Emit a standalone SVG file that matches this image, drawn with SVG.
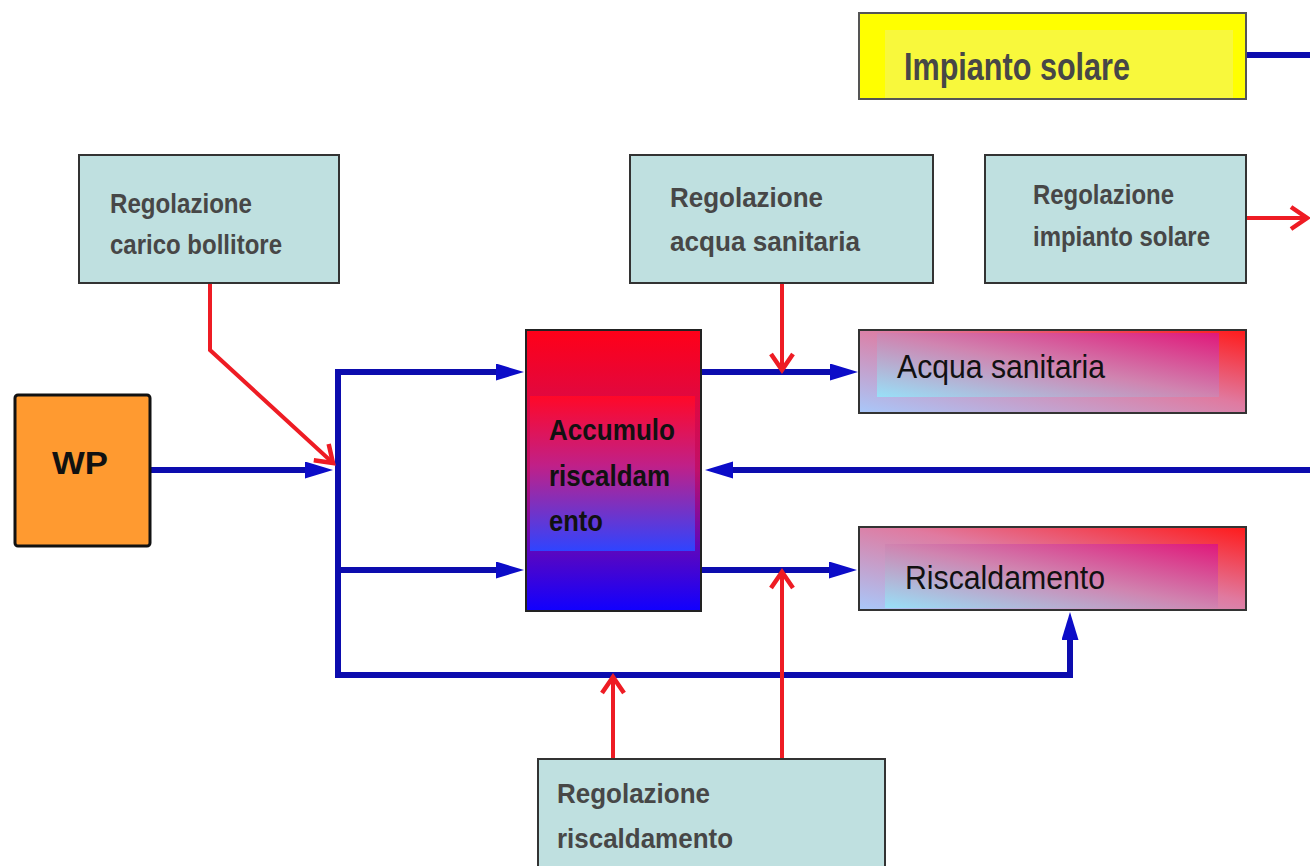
<svg xmlns="http://www.w3.org/2000/svg" width="1310" height="866" viewBox="0 0 1310 866">
<style>
.reg{fill:#bfe0e0;stroke:#333;stroke-width:2}
.rt{font-family:"Liberation Sans",Arial,sans-serif;font-weight:bold;font-size:28px;fill:#474747}
.big{font-size:39px}
.bt{font-family:"Liberation Sans",Arial,sans-serif;font-weight:bold;fill:#111}
.nt{font-family:"Liberation Sans",Arial,sans-serif;font-size:34px;fill:#111}
.blue{fill:none;stroke:#0c0cae;stroke-width:6}
.red{fill:none;stroke:#ee1c24;stroke-width:4}
</style>
<defs>
<marker id="ab" markerUnits="userSpaceOnUse" markerWidth="30" markerHeight="20" refX="2" refY="8.5" orient="auto">
<path d="M0,0 L28,8.5 L0,17 z" fill="#0c0cc8"/>
</marker>
<marker id="ar" markerUnits="userSpaceOnUse" markerWidth="24" markerHeight="28" refX="17" refY="12" orient="auto" overflow="visible">
<path d="M1,1 L17,12 L1,23" fill="none" stroke="#ee1c24" stroke-width="4.5"/>
</marker>
<linearGradient id="gAcc" x1="0" y1="0" x2="0" y2="1">
<stop offset="0" stop-color="#ff0018"/>
<stop offset="0.5" stop-color="#c0106a"/>
<stop offset="1" stop-color="#1000ff"/>
</linearGradient>
<linearGradient id="gAccIn" x1="0" y1="0" x2="0" y2="1">
<stop offset="0" stop-color="#ff0828"/>
<stop offset="0.45" stop-color="#c02088"/>
<stop offset="1" stop-color="#2f44ff"/>
</linearGradient>
<linearGradient id="gOut" x1="0" y1="1" x2="1" y2="0">
<stop offset="0" stop-color="#a8c8fa"/>
<stop offset="0.55" stop-color="#e07aa0"/>
<stop offset="1" stop-color="#ff1a1a"/>
</linearGradient>
<linearGradient id="gIn" x1="0" y1="1" x2="1" y2="0">
<stop offset="0" stop-color="#98e0f8"/>
<stop offset="0.5" stop-color="#d084b0"/>
<stop offset="1" stop-color="#e0187a"/>
</linearGradient>
</defs>

<g id="connectors">
<path class="blue" d="M150,470 H307" marker-end="url(#ab)"/>
<path class="blue" d="M338,372 V675 H1070 V638" stroke-linecap="square" stroke-linejoin="miter" marker-end="url(#ab)"/>
<path class="blue" d="M338,372 H498" marker-end="url(#ab)"/>
<path class="blue" d="M338,570 H498" marker-end="url(#ab)"/>
<path class="blue" d="M701,372 H832" marker-end="url(#ab)"/>
<path class="blue" d="M1310,470 H731" marker-end="url(#ab)"/>
<path class="blue" d="M701,570 H831" marker-end="url(#ab)"/>
<path class="blue" d="M1246,55 H1310"/>
<path class="red" d="M210,283 V350 L333,463" marker-end="url(#ar)"/>
<path class="red" d="M782,283 V370" marker-end="url(#ar)"/>
<path class="red" d="M782,759 V572" marker-end="url(#ar)"/>
<path class="red" d="M613,759 V677" marker-end="url(#ar)"/>
<path class="red" d="M1247,218 H1307" marker-end="url(#ar)"/>
</g>

<g id="impianto-solare">
<rect x="859" y="13" width="387" height="86" fill="#ffff00" stroke="#555" stroke-width="2"/>
<rect x="885" y="30" width="348" height="68" fill="#f8f83c"/>
<text class="rt big" x="904" y="80" textLength="226" lengthAdjust="spacingAndGlyphs">Impianto solare</text>
</g>

<g id="reg-carico-bollitore">
<rect class="reg" x="79" y="155" width="260" height="128"/>
<text class="rt" x="110" y="213" textLength="142" lengthAdjust="spacingAndGlyphs">Regolazione</text>
<text class="rt" x="110" y="254" textLength="172" lengthAdjust="spacingAndGlyphs">carico bollitore</text>
</g>

<g id="reg-acqua-sanitaria">
<rect class="reg" x="630" y="155" width="303" height="128"/>
<text class="rt" x="670" y="207" textLength="153" lengthAdjust="spacingAndGlyphs">Regolazione</text>
<text class="rt" x="670" y="251" textLength="190" lengthAdjust="spacingAndGlyphs">acqua sanitaria</text>
</g>

<g id="reg-impianto-solare">
<rect class="reg" x="985" y="155" width="261" height="128"/>
<text class="rt" x="1033" y="204" textLength="141" lengthAdjust="spacingAndGlyphs">Regolazione</text>
<text class="rt" x="1033" y="246" textLength="177" lengthAdjust="spacingAndGlyphs">impianto solare</text>
</g>

<g id="wp">
<rect x="15" y="395" width="135" height="151" rx="3" fill="#ff9a30" stroke="#111" stroke-width="3"/>
<text class="bt" x="52" y="474" font-size="32" textLength="56" lengthAdjust="spacingAndGlyphs">WP</text>
</g>

<g id="accumulo">
<rect x="526" y="330" width="175" height="281" fill="url(#gAcc)" stroke="#222" stroke-width="2"/>
<rect x="530" y="396" width="165" height="155" fill="url(#gAccIn)"/>
<text class="bt" x="549" y="440" font-size="29" textLength="126" lengthAdjust="spacingAndGlyphs">Accumulo</text>
<text class="bt" x="549" y="486" font-size="29" textLength="121" lengthAdjust="spacingAndGlyphs">riscaldam</text>
<text class="bt" x="549" y="531" font-size="29" textLength="54" lengthAdjust="spacingAndGlyphs">ento</text>
</g>

<g id="acqua-sanitaria">
<rect x="859" y="330" width="387" height="83" fill="url(#gOut)" stroke="#333" stroke-width="2"/>
<rect x="877" y="333" width="342" height="64" fill="url(#gIn)"/>
<text class="nt" x="897" y="378" textLength="208" lengthAdjust="spacingAndGlyphs">Acqua sanitaria</text>
</g>

<g id="riscaldamento">
<rect x="859" y="527" width="387" height="83" fill="url(#gOut)" stroke="#333" stroke-width="2"/>
<rect x="885" y="544" width="333" height="64" fill="url(#gIn)"/>
<text class="nt" x="905" y="589" textLength="200" lengthAdjust="spacingAndGlyphs">Riscaldamento</text>
</g>

<g id="reg-riscaldamento">
<rect class="reg" x="538" y="759" width="347" height="120"/>
<text class="rt" x="557" y="803" textLength="153" lengthAdjust="spacingAndGlyphs">Regolazione</text>
<text class="rt" x="557" y="848" textLength="176" lengthAdjust="spacingAndGlyphs">riscaldamento</text>
</g>
</svg>
